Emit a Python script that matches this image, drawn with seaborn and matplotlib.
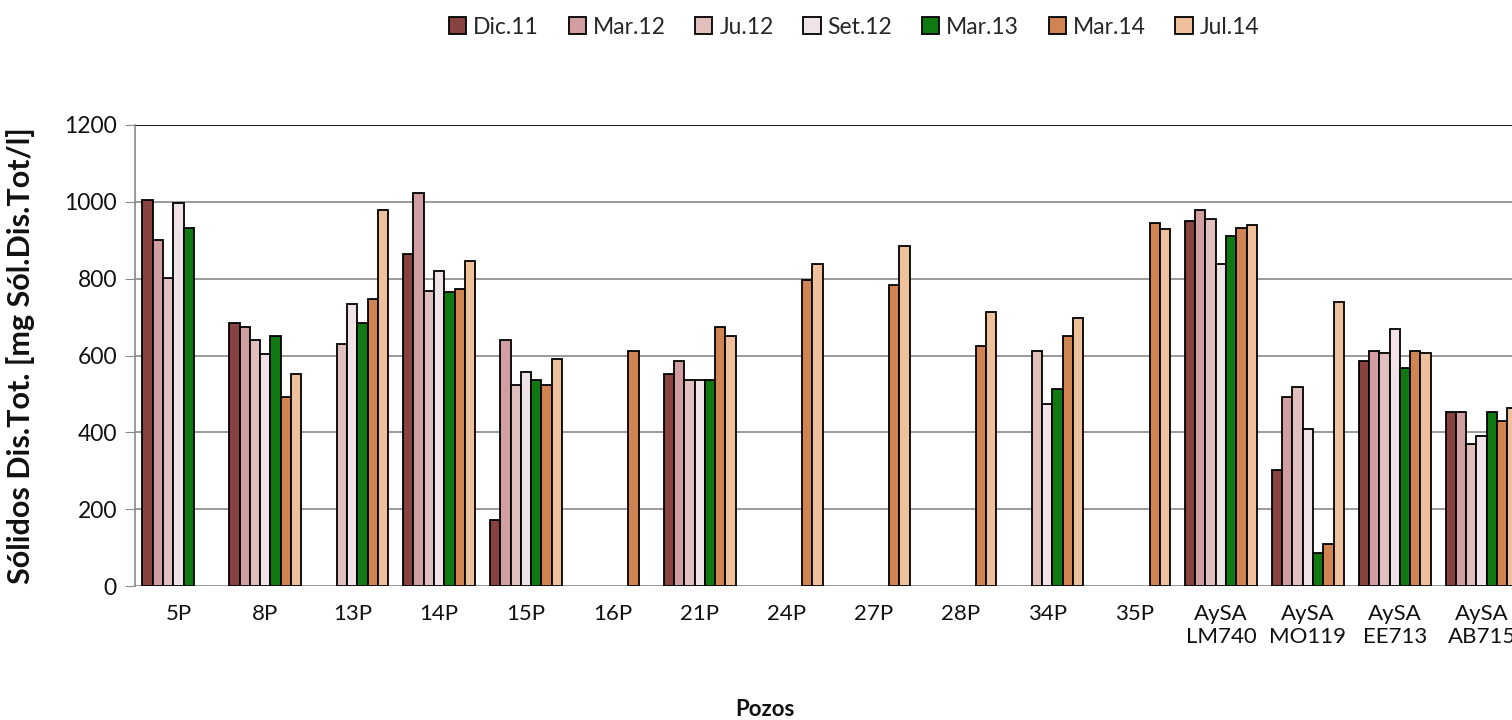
import numpy as np
import pandas as pd
import matplotlib
matplotlib.use("Agg")
import matplotlib.pyplot as plt
import seaborn as sns

nan = np.nan

pozos = ["5P", "8P", "13P", "14P", "15P", "16P", "21P", "24P", "27P", "28P",
         "34P", "35P", "AySA\nLM740", "AySA\nMO119", "AySA\nEE713", "AySA\nAB715"]
fechas = ["Dic.11", "Mar.12", "Ju.12", "Set.12", "Mar.13", "Mar.14", "Jul.14"]

dic_11 = [1006, 684, nan, 863, 171, nan, 552, nan, nan, nan, nan, nan, 950, 303, 586, 454]
mar_12 = [900, 674, nan, 1022, 640, nan, 585, nan, nan, nan, nan, nan, 978, 491, 611, 454]
ju_12 = [802, 640, 630, 768, 524, nan, 535, nan, nan, nan, 612, nan, 956, 517, 607, 370]
set_12 = [996, 603, 735, 819, 558, nan, 535, nan, nan, nan, 473, nan, 839, 409, 668, 391]
mar_13 = [933, 652, 684, 766, 535, nan, 535, nan, nan, nan, 513, nan, 911, 87, 568, 454]
mar_14 = [nan, 491, 748, 774, 524, 611, 674, 797, 784, 624, 652, 945, 933, 109, 611, 430]
jul_14 = [nan, 553, 978, 845, 590, nan, 652, 839, 884, 712, 697, 928, 940, 739, 607, 463]

colores = ["#943634", "#D9959A", "#E6B9B8", "#F2E1E8", "#008A00", "#E5803C", "#FBBE8F"]

series = [dic_11, mar_12, ju_12, set_12, mar_13, mar_14, jul_14]
rows = []
for fecha, vals in zip(fechas, series):
    for pozo, v in zip(pozos, vals):
        rows.append({"pozo": pozo, "fecha": fecha, "valor": v})
df = pd.DataFrame(rows)

sns.set_style("white")
plt.rcParams["font.family"] = ["Lato", "DejaVu Sans"]

fig = plt.figure(figsize=(15.12, 7.2), dpi=100)
# axes runs past the right edge, as in the reference
ax = fig.add_axes([0.0893, 0.1861, 0.9193, 0.6403])

sns.barplot(data=df, x="pozo", y="valor", hue="fecha", order=pozos,
            hue_order=fechas, palette=colores, width=0.83, errorbar=None,
            edgecolor="black", linewidth=1.3, ax=ax, zorder=3)

ax.set_xlim(-0.5, len(pozos) - 0.5)
ax.set_ylim(0, 1200)
ax.set_yticks(range(0, 1201, 200))
ax.yaxis.grid(True, color="#8a8a8a", linewidth=1.2, zorder=0)
ax.set_axisbelow(True)
ax.axhline(1200, color="#222222", linewidth=1.5, zorder=1)

for side in ["top", "right", "bottom"]:
    ax.spines[side].set_visible(False)
ax.spines["left"].set_color("#8a8a8a")
ax.spines["left"].set_linewidth(1.2)

ax.tick_params(axis="y", direction="out", length=7, color="#8a8a8a",
               labelsize=16.5, pad=6, left=True)
ax.tick_params(axis="x", length=0, labelsize=16, pad=13)
for lbl in ax.get_xticklabels() + ax.get_yticklabels():
    lbl.set_color("#111111")

ax.set_xlabel("Pozos", fontsize=16, fontweight="bold", color="#111111")
ax.set_ylabel("Sólidos Dis.Tot. [mg Sól.Dis.Tot/l]", fontsize=22,
              fontweight="bold", color="#111111")
ax.xaxis.set_label_coords(630 / 1390, -113 / 461)
ax.yaxis.set_label_coords(-100 / 1390, 0.5)

handles, labels = ax.get_legend_handles_labels()
ax.get_legend().remove()
fig.legend(handles, labels, loc="center", bbox_to_anchor=(854 / 1512, 1 - 27 / 720),
           ncol=7, frameon=False, fontsize=16.5, handlelength=0.75, handleheight=0.75,
           handletextpad=0.3, columnspacing=1.3)

fig.savefig("out.png", dpi=100)
